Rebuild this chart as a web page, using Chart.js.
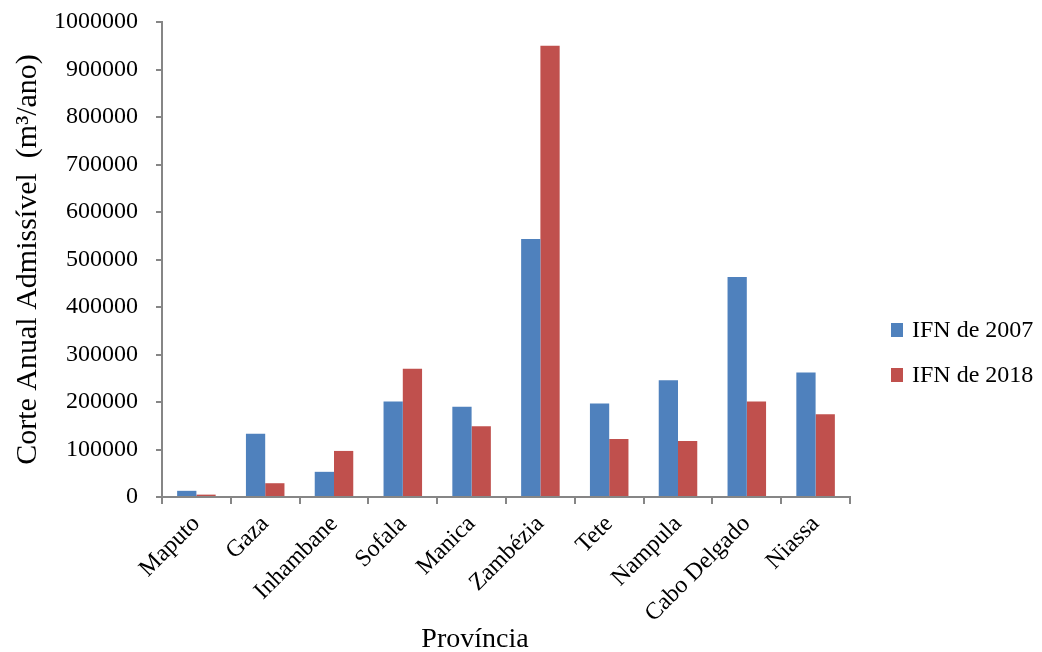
<!DOCTYPE html>
<html>
<head>
<meta charset="utf-8">
<script src="https://cdn.jsdelivr.net/npm/chart.js@4.4.1/dist/chart.umd.min.js"></script>
<style>
html,body{margin:0;padding:0;background:#fff;}
#wrap{width:1042px;height:652px;position:relative;}
</style>
</head>
<body>
<div id="wrap"><canvas id="c" width="1042" height="652"></canvas></div>
<script>
const categories = ["Maputo","Gaza","Inhambane","Sofala","Manica","Zambézia","Tete","Nampula","Cabo Delgado","Niassa"];
const ifn2007 = [13000,133000,53000,201000,190000,543000,197000,246000,463000,262000];
const ifn2018 = [5000,29000,97000,270000,149000,950000,122000,118000,201000,174000];
const seriesLabels = ["IFN de 2007","IFN de 2018"];
const yTitle = "Corte Anual Admissível  (m³/ano)";
const xTitle = "Província";

const FONT = "'Liberation Serif','Times New Roman',serif";
const AXIS = "#868686";

const customText = {
  id: 'customText',
  afterDraw(chart) {
    const ctx = chart.ctx;
    ctx.save();
    ctx.font = "24px " + FONT;
    ctx.textBaseline = "middle";
    ctx.textAlign = "left";
    const ys = [330, 375];
    chart.data.datasets.forEach((ds, i) => {
      ctx.fillStyle = ds.backgroundColor;
      ctx.fillRect(891, ys[i] - 7, 12, 14);
      ctx.fillStyle = "#000";
      ctx.fillText(ds.label, 912, ys[i] + 1);
    });
    ctx.font = "28px " + FONT;
    ctx.textAlign = "center";
    ctx.textBaseline = "alphabetic";
    ctx.fillText(xTitle, 475, 647);
    ctx.restore();
  }
};

new Chart(document.getElementById('c'), {
  type: 'bar',
  data: {
    labels: categories,
    datasets: [
      {label: seriesLabels[0], data: ifn2007, backgroundColor: "#4F81BD", borderWidth: 0},
      {label: seriesLabels[1], data: ifn2018, backgroundColor: "#C0504D", borderWidth: 0}
    ]
  },
  options: {
    responsive: false,
    animation: false,
    devicePixelRatio: 1,
    layout: {padding: {top: 22, right: 192, left: 0, bottom: 0}},
    plugins: {legend: {display: false}, tooltip: {enabled: false}},
    datasets: {bar: {categoryPercentage: 0.56, barPercentage: 1.0}},
    scales: {
      x: {
        grid: {display: true, drawOnChartArea: false, offset: true, color: AXIS, lineWidth: 2, tickLength: 7, tickColor: AXIS},
        border: {color: AXIS, width: 2},
        ticks: {color: "#000", font: {family: FONT, size: 24}, minRotation: 45, maxRotation: 45, padding: 6, autoSkip: false},
        afterFit(s) { s.height = 155; s.paddingTop = 0; s.paddingBottom = 0; s.paddingLeft = 0; s.paddingRight = 0; }
      },
      y: {
        min: 0, max: 1000000,
        grid: {display: true, drawOnChartArea: false, color: AXIS, lineWidth: 2, tickLength: 6, tickColor: AXIS},
        border: {color: AXIS, width: 2},
        ticks: {stepSize: 100000, color: "#000", font: {family: FONT, size: 24}, padding: 18,
          callback: (v) => String(v)},
        title: {display: true, text: yTitle, color: "#000", font: {family: FONT, size: 30}, padding: {top: 10, bottom: 0}},
        afterFit(s) { s.width = 162; s.paddingTop = 0; s.paddingBottom = 0; }
      }
    }
  },
  plugins: [customText]
});
</script>
</body>
</html>
